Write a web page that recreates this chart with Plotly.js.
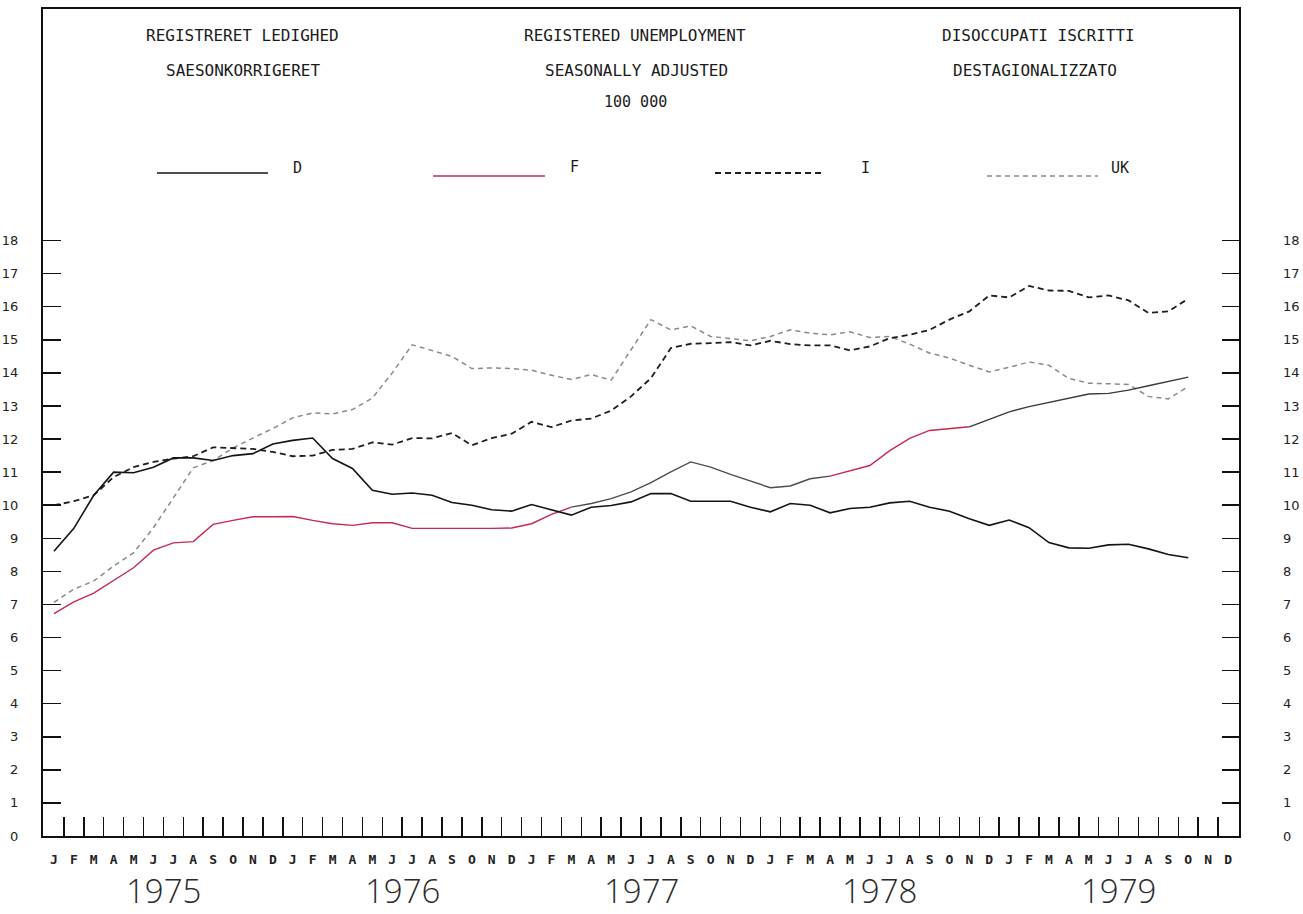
<!DOCTYPE html>
<html>
<head>
<meta charset="utf-8">
<script src="https://cdn.plot.ly/plotly-3.0.1.min.js"></script>
<style>html,body{margin:0;padding:0;background:#fff;}#chart{width:1303px;height:914px;}</style>
</head>
<body>
<div id="chart"></div>
<script>
// Months Jan 1975 .. Dec 1979 (index 0..59)
var monthLetters = ["J","F","M","A","M","J","J","A","S","O","N","D"];
var years = ["1975","1976","1977","1978","1979"];

// Registered unemployment, seasonally adjusted, 100 000 (Jan 1975 .. Oct 1979)
var seriesD = [8.61,9.30,10.30,11.00,10.98,11.15,11.43,11.43,11.35,11.50,11.56,11.85,
               11.96,12.03,11.41,11.11,10.45,10.33,10.37,10.30,10.08,10.00,9.86,9.82,
               10.02,9.86,9.70,9.94,9.99,10.10,10.35,10.35,10.12,10.12,10.12,9.94,
               9.80,10.05,10.00,9.77,9.90,9.94,10.07,10.12,9.94,9.82,9.59,9.39,
               9.55,9.32,8.87,8.71,8.70,8.80,8.82,8.68,8.51,8.41];
var seriesF = [6.72,7.08,7.34,7.73,8.11,8.64,8.86,8.90,9.42,9.54,9.65,9.65,
               9.66,9.54,9.44,9.39,9.47,9.47,9.30,9.30,9.29,9.30,9.30,9.31,
               9.44,9.72,9.94,10.05,10.20,10.40,10.68,11.01,11.31,11.15,10.93,10.73,
               10.53,10.58,10.80,10.88,11.05,11.20,11.65,12.02,12.26,12.32,12.37,12.60,
               12.82,12.98,13.11,13.24,13.36,13.38,13.48,13.61,13.74,13.87];
var seriesI = [10.00,10.12,10.30,10.85,11.15,11.31,11.41,11.48,11.75,11.73,11.70,11.61,
               11.48,11.50,11.67,11.70,11.90,11.83,12.03,12.02,12.18,11.81,12.03,12.16,
               12.52,12.36,12.56,12.62,12.86,13.29,13.84,14.75,14.88,14.90,14.93,14.83,
               14.97,14.87,14.83,14.83,14.68,14.80,15.05,15.15,15.30,15.61,15.86,16.34,
               16.28,16.63,16.49,16.48,16.28,16.34,16.19,15.81,15.86,16.24];
var seriesUK = [7.06,7.46,7.71,8.16,8.56,9.32,10.22,11.13,11.35,11.73,12.03,12.32,
                12.64,12.79,12.76,12.89,13.24,14.00,14.85,14.67,14.50,14.13,14.15,14.13,
                14.08,13.93,13.80,13.95,13.78,14.70,15.61,15.30,15.42,15.10,15.03,14.97,
                15.10,15.30,15.20,15.15,15.24,15.07,15.10,14.87,14.60,14.45,14.23,14.03,
                14.17,14.33,14.23,13.83,13.69,13.66,13.65,13.29,13.21,13.59];
var yTicks = [0,1,2,3,4,5,6,7,8,9,10,11,12,13,14,15,16,17,18];

// the printed F line changes ink along its length (red / dark grey)
var fInk = [{from: 0, to: 26, color: "#c62a50"}, {from: 26, to: 39, color: "#4d4d4d"},
            {from: 39, to: 46, color: "#c62a50"}, {from: 46, to: 57, color: "#3a3a3a"}];

var monthIdx = [], monthText = [], boundaries = [];
for (var y = 0; y < years.length; y++) {
  for (var m = 0; m < 12; m++) {
    monthIdx.push(y * 12 + m);
    monthText.push(monthLetters[m]);
  }
}
for (var k = 0; k < monthIdx.length - 1; k++) boundaries.push(monthIdx[k] + 0.5);
function idx(arr) { return arr.map(function (_, i) { return monthIdx[i]; }); }

var xr = [-0.55, 59.55], yr = [0, 25];
var mono = "DejaVu Sans Mono, monospace";

var traces = [
  {x: idx(seriesUK), y: seriesUK, mode: "lines", line: {color: "#8a8a8a", width: 1.5, dash: "5px,4px"}, hoverinfo: "skip"},
  {x: idx(seriesI), y: seriesI, mode: "lines", line: {color: "#1e1e1e", width: 1.8, dash: "6px,4px"}, hoverinfo: "skip"}
];
fInk.forEach(function (s) {
  traces.push({x: idx(seriesF).slice(s.from, s.to + 1), y: seriesF.slice(s.from, s.to + 1),
               mode: "lines", line: {color: s.color, width: 1.4}, hoverinfo: "skip"});
});
traces.push({x: idx(seriesD), y: seriesD, mode: "lines", line: {color: "#141414", width: 1.6},
             hoverinfo: "skip", xaxis: "x2", yaxis: "y2"});

var annotations = [];
function txt(t, x, y, size) {
  annotations.push({text: t, xref: "paper", yref: "paper", x: x, y: y, showarrow: false,
           xanchor: "center", yanchor: "middle", font: {family: mono, size: size, color: "#1a1a1a"}});
}
txt("REGISTRERET LEDIGHED", 0.1672, 0.9674, 16);
txt("REGISTERED UNEMPLOYMENT", 0.4954, 0.9674, 16);
txt("DISOCCUPATI ISCRITTI", 0.8324, 0.9674, 16);
txt("SAESONKORRIGERET", 0.1672, 0.9262, 16);
txt("SEASONALLY ADJUSTED", 0.4962, 0.9262, 16);
txt("DESTAGIONALIZZATO", 0.8298, 0.9262, 16);
txt("100 000", 0.4958, 0.8876, 15);
// legend labels
txt("D", 0.2124, 0.8077, 15);
txt("F", 0.4448, 0.8089, 15);
txt("I", 0.6881, 0.8077, 15);
txt("UK", 0.9005, 0.8077, 15);
// years
for (var yy = 0; yy < years.length; yy++) {
  annotations.push({text: years[yy], xref: "x", yref: "paper", x: yy * 12 + 5.5, y: -0.0653,
    showarrow: false, xanchor: "center", yanchor: "middle",
    font: {family: "Open Sans, DejaVu Sans, sans-serif", size: 33, weight: 300, color: "#2a2a2a"}});
}

var shapes = [
  {type: "line", xref: "paper", yref: "paper", x0: 0.0953, x1: 0.1881, y0: 0.8017, y1: 0.8017, line: {color: "#141414", width: 1.6}},
  {type: "line", xref: "paper", yref: "paper", x0: 0.3261, x1: 0.4197, y0: 0.7981, y1: 0.7981, line: {color: "#c62a50", width: 1.4}},
  {type: "line", xref: "paper", yref: "paper", x0: 0.5619, x1: 0.6538, y0: 0.8017, y1: 0.8017, line: {color: "#1e1e1e", width: 1.8, dash: "6px,4px"}},
  {type: "line", xref: "paper", yref: "paper", x0: 0.7893, x1: 0.8821, y0: 0.7981, y1: 0.7981, line: {color: "#8a8a8a", width: 1.5, dash: "5px,4px"}}
];

var layout = {
  width: 1303, height: 914,
  margin: {l: 43, r: 64, t: 9, b: 78, pad: 0},
  paper_bgcolor: "#ffffff", plot_bgcolor: "#ffffff",
  showlegend: false,
  xaxis: {range: xr, autorange: false, tickmode: "array", tickvals: boundaries, ticks: "inside",
          ticklen: 19, tickwidth: 1.5, tickcolor: "#111", showticklabels: false,
          showline: true, linewidth: 2, linecolor: "#111", mirror: true,
          showgrid: false, zeroline: false, fixedrange: true},
  xaxis2: {range: xr, autorange: false, overlaying: "x", anchor: "y2", side: "bottom",
           tickmode: "array", tickvals: monthIdx, ticktext: monthText, ticks: "",
           ticklabelstandoff: 14, tickfont: {family: mono, size: 13, weight: "bold", color: "#222"},
           showline: false, showgrid: false, zeroline: false, fixedrange: true},
  yaxis: {range: yr, autorange: false, tickmode: "array", tickvals: yTicks, ticks: "inside",
          ticklen: 18, tickwidth: 1.5, tickcolor: "#111", ticklabelstandoff: 20,
          tickfont: {family: "DejaVu Sans, sans-serif", size: 13, color: "#222"},
          showline: true, linewidth: 2, linecolor: "#111", mirror: true,
          showgrid: false, zeroline: false, fixedrange: true},
  yaxis2: {range: yr, autorange: false, overlaying: "y", side: "right", anchor: "x2",
           tickmode: "array", tickvals: yTicks, ticks: "inside", ticklen: 17, tickwidth: 1.5,
           tickcolor: "#111", ticklabelstandoff: 43,
           tickfont: {family: "DejaVu Sans, sans-serif", size: 13, color: "#222"},
           showline: false, showgrid: false, zeroline: false, fixedrange: true},
  annotations: annotations,
  shapes: shapes
};

Plotly.newPlot("chart", traces, layout, {displayModeBar: false, staticPlot: true});
</script>
</body>
</html>
